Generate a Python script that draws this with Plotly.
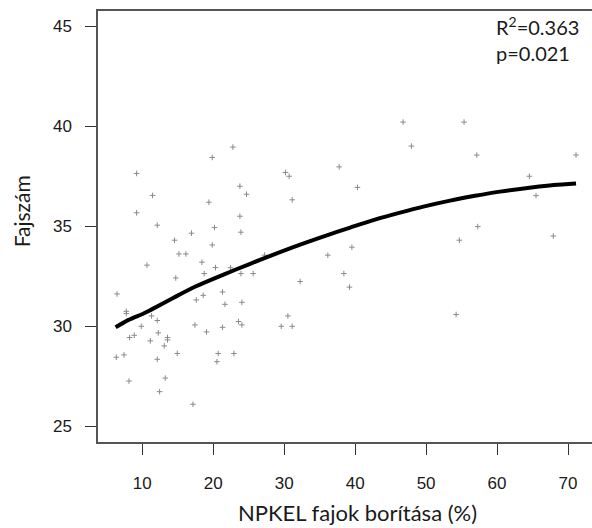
import plotly.graph_objects as go

# Observed data (NPKEL cover %, species number)
cover = [9.20, 22.77, 19.86, 11.45, 23.76, 24.69, 19.39, 9.20, 23.76, 12.11,
         20.18, 23.90, 16.94, 14.55, 19.86, 15.17, 16.15, 18.41, 10.66, 20.32,
         22.44, 18.73, 23.90, 25.63, 14.72, 6.44, 7.75, 7.75, 21.31, 18.59,
         17.61, 21.65, 24.04, 11.31, 12.11, 23.56, 24.04, 9.86, 17.42, 21.31,
         19.06, 12.25, 8.21, 8.87, 13.56, 13.56, 11.13, 13.10, 6.34, 7.42,
         12.11, 14.93, 20.70, 22.92, 20.52, 8.13, 13.24, 12.44, 17.14,
         46.76, 55.35, 47.93, 57.14, 71.13, 37.75, 30.18, 30.70, 64.55, 40.32,
         65.49, 31.13, 57.28, 54.69, 67.92, 39.54, 36.15, 27.23, 32.25, 38.41,
         39.20, 30.52, 29.58, 31.13, 54.23]
species = [37.64, 38.96, 38.44, 36.54, 37.00, 36.60, 36.20, 35.67, 35.50, 35.05,
           34.93, 34.70, 34.65, 34.30, 34.06, 33.61, 33.61, 33.20, 33.05, 32.93,
           32.92, 32.63, 32.63, 32.63, 32.41, 31.61, 30.74, 30.63, 31.71, 31.54,
           31.31, 31.09, 31.19, 30.51, 30.28, 30.23, 30.06, 29.99, 30.06, 29.94,
           29.71, 29.66, 29.43, 29.54, 29.43, 29.31, 29.26, 29.01, 28.44, 28.56,
           28.34, 28.63, 28.63, 28.63, 28.22, 27.25, 27.40, 26.72, 26.09,
           40.21, 40.21, 39.01, 38.56, 38.56, 37.97, 37.69, 37.50, 37.50, 36.94,
           36.53, 36.32, 34.98, 34.30, 34.51, 33.95, 33.55, 33.55, 32.23, 32.63,
           31.95, 30.51, 29.99, 29.99, 30.58]

# Fitted curve
fit_x = [6.24, 8.0, 10.18, 11.13, 14.41, 17.5, 21.45, 25.21, 28.5, 32.25,
         35.8, 39.30, 42.8, 46.34, 49.62, 53.38, 56.9, 60.42, 65.11, 68.0, 71.13]
fit_y = [29.94, 30.30, 30.63, 30.80, 31.42, 31.98, 32.58, 33.12, 33.58, 34.08,
         34.52, 34.93, 35.33, 35.68, 35.98, 36.28, 36.52, 36.73, 36.95, 37.06, 37.14]

x_ticks = [10, 20, 30, 40, 50, 60, 70]
y_ticks = [25, 30, 35, 40, 45]

x_title = "NPKEL fajok borítása (%)"
y_title = "Fajszám"
stats_text = "R<sup>2</sup>=0.363<br>p=0.021"

TEXT_FONT = "Lato"
TICK_FONT = "Liberation Sans"

fig = go.Figure()
fig.add_trace(go.Scatter(
    x=cover, y=species, mode="markers",
    marker=dict(symbol="cross-thin", size=4,
                line=dict(width=1, color="#8a8a8a"), color="#8a8a8a"),
    showlegend=False, hoverinfo="skip"))
fig.add_trace(go.Scatter(
    x=fit_x, y=fit_y, mode="lines",
    line=dict(color="black", width=4, shape="spline", smoothing=0.8),
    showlegend=False, hoverinfo="skip"))

axis_common = dict(
    showgrid=False, zeroline=False, showline=True, linecolor="#555555",
    linewidth=1.5, ticks="outside", ticklen=11, tickwidth=1.3,
    tickcolor="#333333",
    tickfont=dict(family=TICK_FONT, size=17, color="#1a1a1a"),
)

fig.update_xaxes(range=[3.76, 73.38], tickvals=x_ticks, mirror=True,
                 ticklabelstandoff=14, **axis_common)
fig.update_yaxes(range=[24.20, 45.77], tickvals=y_ticks,
                 ticklabelstandoff=10, **axis_common)

fig.add_annotation(text=x_title, xref="x", yref="paper", x=40.3, y=-0.163,
                   xanchor="center", yanchor="middle", showarrow=False,
                   font=dict(family=TEXT_FONT, size=22, color="#1a1a1a"))
fig.add_annotation(text=y_title, xref="paper", yref="paper", x=-0.156, y=0.535,
                   xanchor="center", yanchor="middle", showarrow=False,
                   textangle=-90,
                   font=dict(family=TEXT_FONT, size=21, color="#1a1a1a"))
fig.add_annotation(text=stats_text, xref="paper", yref="paper", x=0.8017, y=1.0,
                   xanchor="left", yanchor="top", align="left", showarrow=False,
                   font=dict(family=TEXT_FONT, size=20, color="#1a1a1a"))

fig.update_layout(
    width=592, height=528,
    margin=dict(l=97.7, r=0, t=11, b=86.3),
    plot_bgcolor="white", paper_bgcolor="white",
)

fig.write_html("out.html")
